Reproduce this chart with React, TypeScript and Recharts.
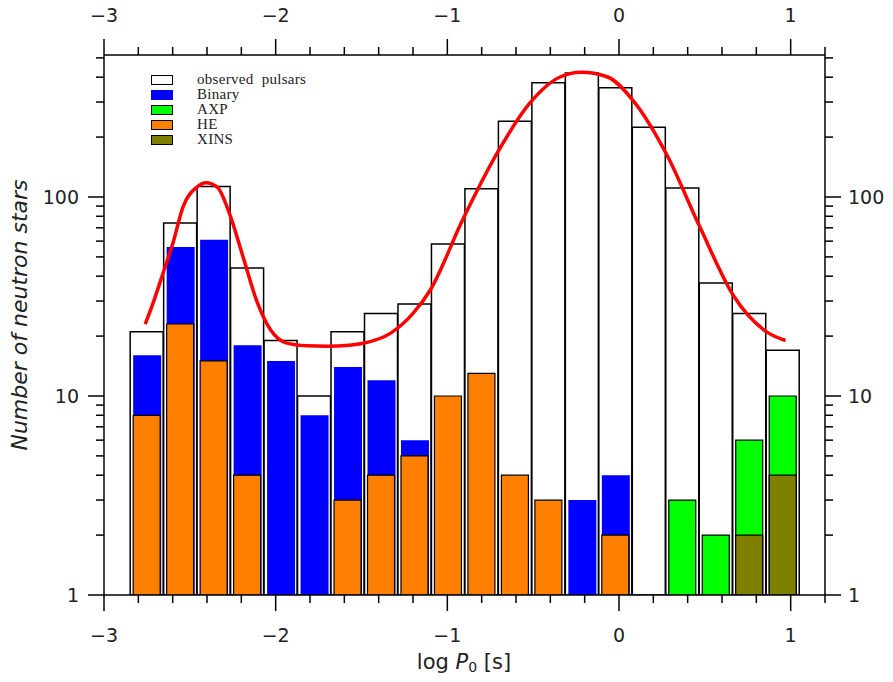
import React from "react"
import { Bar, ComposedChart, Line, XAxis, YAxis } from "recharts"

// histogram bins of log P0 (bin width ~0.195)
const binCenters = [
  -2.75, -2.555, -2.36, -2.165, -1.97, -1.775, -1.58, -1.385, -1.19, -0.995,
  -0.8, -0.605, -0.41, -0.215, -0.02, 0.175, 0.37, 0.565, 0.76, 0.955,
]
const observed = [21, 74, 113, 44, 19, 10, 21, 26, 29, 58, 110, 240, 375, 420, 354, 224, 111, 37, 26, 17]
const binary = [16, 56, 61, 18, 15, 8, 14, 12, 6, null, null, null, null, 3, 4, null, null, null, null, null]
const he = [8, 23, 15, 4, null, null, 3, 4, 5, 10, 13, 4, 3, null, 2, null, null, null, null, null]
const axp = [null, null, null, null, null, null, null, null, null, null, null, null, null, null, null, null, 3, 2, 6, 10]
const xins = [null, null, null, null, null, null, null, null, null, null, null, null, null, null, null, null, null, null, 2, 4]

// red fitted curve
const fitX = [
  -2.76, -2.71, -2.65, -2.6, -2.54, -2.46, -2.405, -2.34, -2.27, -2.19, -2.11, -2.03, -1.94, -1.82, -1.7, -1.57,
  -1.49, -1.33, -1.2, -1.1, -0.91, -0.71, -0.52, -0.34, -0.22, -0.07, 0.08, 0.28, 0.47, 0.67, 0.86, 0.97,
]
const fitY = [
  23, 30, 43, 58, 89, 112, 118, 112, 83, 50, 30, 21.5, 18.5, 17.9, 17.8, 18,
  18.4, 20.7, 26, 34, 77, 166, 296, 402, 423, 402, 307, 162, 71, 31.6, 21, 19,
]

const xTicks = [-3, -2.8, -2.6, -2.4, -2.2, -2, -1.8, -1.6, -1.4, -1.2, -1, -0.8, -0.6, -0.4, -0.2, 0, 0.2, 0.4, 0.6, 0.8, 1, 1.2]
const xMajor = [-3, -2, -1, 0, 1]
const yTicks = [1, 2, 3, 4, 5, 6, 7, 8, 9, 10, 20, 30, 40, 50, 60, 70, 80, 90, 100, 200, 300, 400, 500]
const yMajor = [1, 10, 100]

const legendItems = [
  { name: "observed  pulsars", fill: "#ffffff", stroke: "#000" },
  { name: "Binary", fill: "#0000ff", stroke: "#0000ff" },
  { name: "AXP", fill: "#00ff00", stroke: "#000" },
  { name: "HE", fill: "#ff8000", stroke: "#000" },
  { name: "XINS", fill: "#808000", stroke: "#000" },
]

const bins = binCenters.map((x, i) => ({
  x,
  observed: observed[i],
  binary: binary[i],
  he: he[i],
  axp: axp[i],
  xins: xins[i],
}))
const fit = fitX.map((x, i) => ({ x, fit: fitY[i] }))

const tickFont = { fontFamily: "DejaVu Sans", fontSize: 19, fill: "#222" }
const DOMAIN_X: [number, number] = [-3, 1.2]
const DOMAIN_Y: [number, number] = [1, 517]

const fmtX = (v: number) => (v < 0 ? "\u2212" + Math.abs(v) : String(v))

function BottomTick({ x, y, payload }: any) {
  const major = xMajor.includes(payload.value)
  return (
    <g>
      <line x1={x} x2={x} y1={y} y2={y + (major ? 16 : 8)} stroke="#000" strokeWidth={1.5} />
      {major && (
        <text x={x} y={y + 47} textAnchor="middle" {...tickFont}>
          {fmtX(payload.value)}
        </text>
      )}
    </g>
  )
}

function TopTick({ x, y, payload }: any) {
  const major = xMajor.includes(payload.value)
  return (
    <g>
      <line x1={x} x2={x} y1={y} y2={y - (major ? 16 : 8)} stroke="#000" strokeWidth={1.5} />
      {major && (
        <text x={x} y={y - 33} textAnchor="middle" {...tickFont}>
          {fmtX(payload.value)}
        </text>
      )}
    </g>
  )
}

function LeftTick({ x, y, payload }: any) {
  const major = yMajor.includes(payload.value)
  return (
    <g>
      <line x1={x} x2={x - (major ? 16 : 8)} y1={y} y2={y} stroke="#000" strokeWidth={1.5} />
      {major && (
        <text x={x - 25} y={y + 7} textAnchor="end" {...tickFont}>
          {payload.value}
        </text>
      )}
    </g>
  )
}

function RightTick({ x, y, payload }: any) {
  const major = yMajor.includes(payload.value)
  return (
    <g>
      <line x1={x} x2={x + (major ? 16 : 8)} y1={y} y2={y} stroke="#000" strokeWidth={1.5} />
      {major && (
        <text x={x + 23} y={y + 7} textAnchor="start" {...tickFont}>
          {payload.value}
        </text>
      )}
    </g>
  )
}

export default function App() {
  return (
    <div style={{ position: "relative", width: 877, height: 674, marginTop: -8 }}>
      <ComposedChart
        width={877}
        height={674}
        data={bins}
        margin={{ top: 15, right: 0, bottom: 19, left: 36 }}
      >
        <XAxis
          xAxisId="bx"
          type="number"
          dataKey="x"
          domain={DOMAIN_X}
          allowDataOverflow
          ticks={xTicks}
          interval={0}
          tickSize={0}
          tickMargin={0}
          tickLine={false}
          tick={<BottomTick />}
          axisLine={{ stroke: "#000", strokeWidth: 1.5 }}
          height={60}
        />
        <XAxis
          xAxisId="tx"
          orientation="top"
          type="number"
          dataKey="x"
          domain={DOMAIN_X}
          allowDataOverflow
          ticks={xTicks}
          interval={0}
          tickSize={0}
          tickMargin={0}
          tickLine={false}
          tick={<TopTick />}
          axisLine={{ stroke: "#000", strokeWidth: 1.5 }}
          height={40}
        />
        <XAxis xAxisId="h0" type="number" dataKey="x" domain={DOMAIN_X} allowDataOverflow hide />
        <XAxis xAxisId="h1" type="number" dataKey="x" domain={DOMAIN_X} allowDataOverflow hide />
        <XAxis xAxisId="h2" type="number" dataKey="x" domain={DOMAIN_X} allowDataOverflow hide />
        <XAxis xAxisId="h3" type="number" dataKey="x" domain={DOMAIN_X} allowDataOverflow hide />
        <XAxis xAxisId="h4" type="number" dataKey="x" domain={DOMAIN_X} allowDataOverflow hide />
        <YAxis
          yAxisId="l"
          type="number"
          scale="log"
          domain={DOMAIN_Y}
          allowDataOverflow
          ticks={yTicks}
          interval={0}
          tickSize={0}
          tickMargin={0}
          tickLine={false}
          tick={<LeftTick />}
          axisLine={{ stroke: "#000", strokeWidth: 1.5 }}
          width={60}
        />
        <YAxis
          yAxisId="r"
          orientation="right"
          type="number"
          scale="log"
          domain={DOMAIN_Y}
          allowDataOverflow
          ticks={yTicks}
          interval={0}
          tickSize={0}
          tickMargin={0}
          tickLine={false}
          tick={<RightTick />}
          axisLine={{ stroke: "#000", strokeWidth: 1.5 }}
          width={60}
        />
        <Bar xAxisId="h0" yAxisId="l" dataKey="observed" barSize={33} fill="#fff" stroke="#000" strokeWidth={1.5} isAnimationActive={false} />
        <Bar xAxisId="h1" yAxisId="l" dataKey="binary" barSize={28} fill="#0000ff" isAnimationActive={false} />
        <Bar xAxisId="h2" yAxisId="l" dataKey="axp" barSize={27} fill="#00ff00" stroke="#000" strokeWidth={1.2} isAnimationActive={false} />
        <Bar xAxisId="h3" yAxisId="l" dataKey="he" barSize={27} fill="#ff8000" stroke="#000" strokeWidth={1.2} isAnimationActive={false} />
        <Bar xAxisId="h4" yAxisId="l" dataKey="xins" barSize={27} fill="#808000" stroke="#000" strokeWidth={1.2} isAnimationActive={false} />
        <Line
          xAxisId="bx"
          yAxisId="l"
          data={fit}
          dataKey="fit"
          type="monotone"
          stroke="#ff0000"
          strokeWidth={3.5}
          dot={false}
          activeDot={false}
          isAnimationActive={false}
        />
      </ComposedChart>

      <div style={{ position: "absolute", left: 143, top: 72 }}>
        {legendItems.map((item) => (
          <div key={item.name} style={{ display: "flex", alignItems: "center", height: 15 }}>
            <div
              style={{
                width: 20,
                height: 8,
                background: item.fill,
                border: `1.5px solid ${item.stroke}`,
              }}
            />
            <span
              style={{
                marginLeft: 24,
                fontFamily: "Liberation Serif",
                fontSize: 15,
                letterSpacing: 0.3,
                color: "#222",
                whiteSpace: "pre",
                lineHeight: "15px",
              }}
            >
              {item.name}
            </span>
          </div>
        ))}
      </div>

      <div
        style={{
          position: "absolute",
          left: 456 - 200,
          top: 650,
          width: 400,
          textAlign: "center",
          fontFamily: "DejaVu Sans",
          fontSize: 21,
          color: "#222",
          lineHeight: "24px",
        }}
      >
        log <i>P</i>
        <sub style={{ fontSize: 14, verticalAlign: "-3px" }}>0</sub> [s]
      </div>

      <div
        style={{
          position: "absolute",
          left: 12 - 200,
          top: 315 - 12,
          width: 400,
          textAlign: "center",
          transform: "rotate(-90deg)",
          fontFamily: "DejaVu Sans",
          fontStyle: "italic",
          fontSize: 22,
          color: "#222",
          lineHeight: "24px",
        }}
      >
        Number of neutron stars
      </div>
    </div>
  )
}
